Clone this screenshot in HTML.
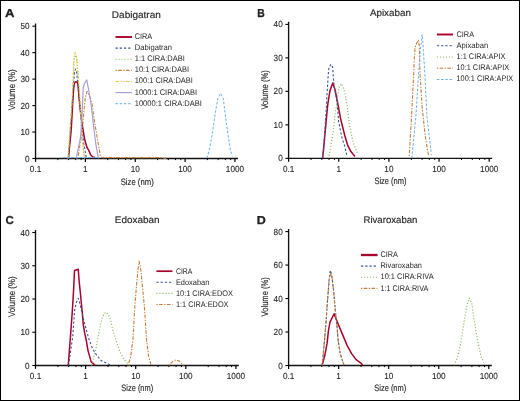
<!DOCTYPE html>
<html><head><meta charset="utf-8"><style>
html,body{margin:0;padding:0;background:#fff;}
body{width:520px;height:401px;overflow:hidden;}
svg{display:block;font-family:"Liberation Sans", sans-serif;will-change:transform;text-rendering:geometricPrecision;}
text{stroke:#231f20;stroke-width:0.15px;}
text.tk{stroke-width:0.1px;}
text.lg{stroke-width:0;}
text.pl{stroke-width:0.3px;}
</style></head><body>
<svg width="520" height="401" viewBox="0 0 520 401">
<rect x="0" y="0" width="520" height="401" fill="#fff"/>
<rect x="0.5" y="0.5" width="519" height="400" fill="none" stroke="#000" stroke-width="1"/>
<path d="M35.55 23.60V158.50H237.95" fill="none" stroke="#111" stroke-width="1.35"/>
<line x1="32.35" y1="158.50" x2="35.55" y2="158.50" stroke="#000" stroke-width="1.1"/>
<text class="tk" transform="translate(29.65 161.50) scale(0.93 1)" font-size="8.8" text-anchor="end" fill="#231f20">0</text>
<line x1="32.35" y1="132.04" x2="35.55" y2="132.04" stroke="#000" stroke-width="1.1"/>
<text class="tk" transform="translate(29.65 135.04) scale(0.93 1)" font-size="8.8" text-anchor="end" fill="#231f20">10</text>
<line x1="32.35" y1="105.58" x2="35.55" y2="105.58" stroke="#000" stroke-width="1.1"/>
<text class="tk" transform="translate(29.65 108.58) scale(0.93 1)" font-size="8.8" text-anchor="end" fill="#231f20">20</text>
<line x1="32.35" y1="79.12" x2="35.55" y2="79.12" stroke="#000" stroke-width="1.1"/>
<text class="tk" transform="translate(29.65 82.12) scale(0.93 1)" font-size="8.8" text-anchor="end" fill="#231f20">30</text>
<line x1="32.35" y1="52.66" x2="35.55" y2="52.66" stroke="#000" stroke-width="1.1"/>
<text class="tk" transform="translate(29.65 55.66) scale(0.93 1)" font-size="8.8" text-anchor="end" fill="#231f20">40</text>
<line x1="32.35" y1="26.20" x2="35.55" y2="26.20" stroke="#000" stroke-width="1.1"/>
<text class="tk" transform="translate(29.65 29.20) scale(0.93 1)" font-size="8.8" text-anchor="end" fill="#231f20">50</text>
<line x1="35.55" y1="158.50" x2="35.55" y2="161.90" stroke="#000" stroke-width="1.2"/>
<text class="tk" transform="translate(35.55 172.20) scale(0.93 1)" font-size="8.8" text-anchor="middle" fill="#231f20">0.1</text>
<line x1="57.84" y1="158.50" x2="57.84" y2="160.10" stroke="#000" stroke-width="1.0"/>
<line x1="68.59" y1="158.50" x2="68.59" y2="160.10" stroke="#000" stroke-width="1.0"/>
<line x1="75.74" y1="158.50" x2="75.74" y2="160.10" stroke="#000" stroke-width="1.0"/>
<line x1="81.10" y1="158.50" x2="81.10" y2="160.10" stroke="#000" stroke-width="1.0"/>
<line x1="85.40" y1="158.50" x2="85.40" y2="161.90" stroke="#000" stroke-width="1.2"/>
<text class="tk" transform="translate(85.40 172.20) scale(0.93 1)" font-size="8.8" text-anchor="middle" fill="#231f20">1</text>
<line x1="107.69" y1="158.50" x2="107.69" y2="160.10" stroke="#000" stroke-width="1.0"/>
<line x1="118.44" y1="158.50" x2="118.44" y2="160.10" stroke="#000" stroke-width="1.0"/>
<line x1="125.59" y1="158.50" x2="125.59" y2="160.10" stroke="#000" stroke-width="1.0"/>
<line x1="130.95" y1="158.50" x2="130.95" y2="160.10" stroke="#000" stroke-width="1.0"/>
<line x1="135.25" y1="158.50" x2="135.25" y2="161.90" stroke="#000" stroke-width="1.2"/>
<text class="tk" transform="translate(135.25 172.20) scale(0.93 1)" font-size="8.8" text-anchor="middle" fill="#231f20">10</text>
<line x1="157.54" y1="158.50" x2="157.54" y2="160.10" stroke="#000" stroke-width="1.0"/>
<line x1="168.29" y1="158.50" x2="168.29" y2="160.10" stroke="#000" stroke-width="1.0"/>
<line x1="175.44" y1="158.50" x2="175.44" y2="160.10" stroke="#000" stroke-width="1.0"/>
<line x1="180.80" y1="158.50" x2="180.80" y2="160.10" stroke="#000" stroke-width="1.0"/>
<line x1="185.10" y1="158.50" x2="185.10" y2="161.90" stroke="#000" stroke-width="1.2"/>
<text class="tk" transform="translate(185.10 172.20) scale(0.93 1)" font-size="8.8" text-anchor="middle" fill="#231f20">100</text>
<line x1="207.39" y1="158.50" x2="207.39" y2="160.10" stroke="#000" stroke-width="1.0"/>
<line x1="218.14" y1="158.50" x2="218.14" y2="160.10" stroke="#000" stroke-width="1.0"/>
<line x1="225.29" y1="158.50" x2="225.29" y2="160.10" stroke="#000" stroke-width="1.0"/>
<line x1="230.65" y1="158.50" x2="230.65" y2="160.10" stroke="#000" stroke-width="1.0"/>
<line x1="234.95" y1="158.50" x2="234.95" y2="161.90" stroke="#000" stroke-width="1.2"/>
<text class="tk" transform="translate(234.95 172.20) scale(0.93 1)" font-size="8.8" text-anchor="middle" fill="#231f20">1000</text>
<path d="M288.60 21.79V158.35H492.20" fill="none" stroke="#111" stroke-width="1.35"/>
<line x1="285.40" y1="158.35" x2="288.60" y2="158.35" stroke="#000" stroke-width="1.1"/>
<text class="tk" transform="translate(282.70 161.35) scale(0.93 1)" font-size="8.8" text-anchor="end" fill="#231f20">0</text>
<line x1="285.40" y1="124.86" x2="288.60" y2="124.86" stroke="#000" stroke-width="1.1"/>
<text class="tk" transform="translate(282.70 127.86) scale(0.93 1)" font-size="8.8" text-anchor="end" fill="#231f20">10</text>
<line x1="285.40" y1="91.37" x2="288.60" y2="91.37" stroke="#000" stroke-width="1.1"/>
<text class="tk" transform="translate(282.70 94.37) scale(0.93 1)" font-size="8.8" text-anchor="end" fill="#231f20">20</text>
<line x1="285.40" y1="57.88" x2="288.60" y2="57.88" stroke="#000" stroke-width="1.1"/>
<text class="tk" transform="translate(282.70 60.88) scale(0.93 1)" font-size="8.8" text-anchor="end" fill="#231f20">30</text>
<line x1="285.40" y1="24.39" x2="288.60" y2="24.39" stroke="#000" stroke-width="1.1"/>
<text class="tk" transform="translate(282.70 27.39) scale(0.93 1)" font-size="8.8" text-anchor="end" fill="#231f20">40</text>
<line x1="288.60" y1="158.35" x2="288.60" y2="161.75" stroke="#000" stroke-width="1.2"/>
<text class="tk" transform="translate(288.60 172.05) scale(0.93 1)" font-size="8.8" text-anchor="middle" fill="#231f20">0.1</text>
<line x1="311.02" y1="158.35" x2="311.02" y2="159.95" stroke="#000" stroke-width="1.0"/>
<line x1="321.84" y1="158.35" x2="321.84" y2="159.95" stroke="#000" stroke-width="1.0"/>
<line x1="329.03" y1="158.35" x2="329.03" y2="159.95" stroke="#000" stroke-width="1.0"/>
<line x1="334.43" y1="158.35" x2="334.43" y2="159.95" stroke="#000" stroke-width="1.0"/>
<line x1="338.75" y1="158.35" x2="338.75" y2="161.75" stroke="#000" stroke-width="1.2"/>
<text class="tk" transform="translate(338.75 172.05) scale(0.93 1)" font-size="8.8" text-anchor="middle" fill="#231f20">1</text>
<line x1="361.17" y1="158.35" x2="361.17" y2="159.95" stroke="#000" stroke-width="1.0"/>
<line x1="371.99" y1="158.35" x2="371.99" y2="159.95" stroke="#000" stroke-width="1.0"/>
<line x1="379.18" y1="158.35" x2="379.18" y2="159.95" stroke="#000" stroke-width="1.0"/>
<line x1="384.58" y1="158.35" x2="384.58" y2="159.95" stroke="#000" stroke-width="1.0"/>
<line x1="388.90" y1="158.35" x2="388.90" y2="161.75" stroke="#000" stroke-width="1.2"/>
<text class="tk" transform="translate(388.90 172.05) scale(0.93 1)" font-size="8.8" text-anchor="middle" fill="#231f20">10</text>
<line x1="411.32" y1="158.35" x2="411.32" y2="159.95" stroke="#000" stroke-width="1.0"/>
<line x1="422.14" y1="158.35" x2="422.14" y2="159.95" stroke="#000" stroke-width="1.0"/>
<line x1="429.33" y1="158.35" x2="429.33" y2="159.95" stroke="#000" stroke-width="1.0"/>
<line x1="434.73" y1="158.35" x2="434.73" y2="159.95" stroke="#000" stroke-width="1.0"/>
<line x1="439.05" y1="158.35" x2="439.05" y2="161.75" stroke="#000" stroke-width="1.2"/>
<text class="tk" transform="translate(439.05 172.05) scale(0.93 1)" font-size="8.8" text-anchor="middle" fill="#231f20">100</text>
<line x1="461.47" y1="158.35" x2="461.47" y2="159.95" stroke="#000" stroke-width="1.0"/>
<line x1="472.29" y1="158.35" x2="472.29" y2="159.95" stroke="#000" stroke-width="1.0"/>
<line x1="479.48" y1="158.35" x2="479.48" y2="159.95" stroke="#000" stroke-width="1.0"/>
<line x1="484.88" y1="158.35" x2="484.88" y2="159.95" stroke="#000" stroke-width="1.0"/>
<line x1="489.20" y1="158.35" x2="489.20" y2="161.75" stroke="#000" stroke-width="1.2"/>
<text class="tk" transform="translate(489.20 172.05) scale(0.93 1)" font-size="8.8" text-anchor="middle" fill="#231f20">1000</text>
<path d="M35.50 229.90V365.50H238.90" fill="none" stroke="#111" stroke-width="1.35"/>
<line x1="32.30" y1="365.50" x2="35.50" y2="365.50" stroke="#000" stroke-width="1.1"/>
<text class="tk" transform="translate(29.60 368.50) scale(0.93 1)" font-size="8.8" text-anchor="end" fill="#231f20">0</text>
<line x1="32.30" y1="332.25" x2="35.50" y2="332.25" stroke="#000" stroke-width="1.1"/>
<text class="tk" transform="translate(29.60 335.25) scale(0.93 1)" font-size="8.8" text-anchor="end" fill="#231f20">10</text>
<line x1="32.30" y1="299.00" x2="35.50" y2="299.00" stroke="#000" stroke-width="1.1"/>
<text class="tk" transform="translate(29.60 302.00) scale(0.93 1)" font-size="8.8" text-anchor="end" fill="#231f20">20</text>
<line x1="32.30" y1="265.75" x2="35.50" y2="265.75" stroke="#000" stroke-width="1.1"/>
<text class="tk" transform="translate(29.60 268.75) scale(0.93 1)" font-size="8.8" text-anchor="end" fill="#231f20">30</text>
<line x1="32.30" y1="232.50" x2="35.50" y2="232.50" stroke="#000" stroke-width="1.1"/>
<text class="tk" transform="translate(29.60 235.50) scale(0.93 1)" font-size="8.8" text-anchor="end" fill="#231f20">40</text>
<line x1="35.50" y1="365.50" x2="35.50" y2="368.90" stroke="#000" stroke-width="1.2"/>
<text class="tk" transform="translate(35.50 379.20) scale(0.93 1)" font-size="8.8" text-anchor="middle" fill="#231f20">0.1</text>
<line x1="57.90" y1="365.50" x2="57.90" y2="367.10" stroke="#000" stroke-width="1.0"/>
<line x1="68.70" y1="365.50" x2="68.70" y2="367.10" stroke="#000" stroke-width="1.0"/>
<line x1="75.89" y1="365.50" x2="75.89" y2="367.10" stroke="#000" stroke-width="1.0"/>
<line x1="81.28" y1="365.50" x2="81.28" y2="367.10" stroke="#000" stroke-width="1.0"/>
<line x1="85.60" y1="365.50" x2="85.60" y2="368.90" stroke="#000" stroke-width="1.2"/>
<text class="tk" transform="translate(85.60 379.20) scale(0.93 1)" font-size="8.8" text-anchor="middle" fill="#231f20">1</text>
<line x1="108.00" y1="365.50" x2="108.00" y2="367.10" stroke="#000" stroke-width="1.0"/>
<line x1="118.80" y1="365.50" x2="118.80" y2="367.10" stroke="#000" stroke-width="1.0"/>
<line x1="125.99" y1="365.50" x2="125.99" y2="367.10" stroke="#000" stroke-width="1.0"/>
<line x1="131.38" y1="365.50" x2="131.38" y2="367.10" stroke="#000" stroke-width="1.0"/>
<line x1="135.70" y1="365.50" x2="135.70" y2="368.90" stroke="#000" stroke-width="1.2"/>
<text class="tk" transform="translate(135.70 379.20) scale(0.93 1)" font-size="8.8" text-anchor="middle" fill="#231f20">10</text>
<line x1="158.10" y1="365.50" x2="158.10" y2="367.10" stroke="#000" stroke-width="1.0"/>
<line x1="168.90" y1="365.50" x2="168.90" y2="367.10" stroke="#000" stroke-width="1.0"/>
<line x1="176.09" y1="365.50" x2="176.09" y2="367.10" stroke="#000" stroke-width="1.0"/>
<line x1="181.48" y1="365.50" x2="181.48" y2="367.10" stroke="#000" stroke-width="1.0"/>
<line x1="185.80" y1="365.50" x2="185.80" y2="368.90" stroke="#000" stroke-width="1.2"/>
<text class="tk" transform="translate(185.80 379.20) scale(0.93 1)" font-size="8.8" text-anchor="middle" fill="#231f20">100</text>
<line x1="208.20" y1="365.50" x2="208.20" y2="367.10" stroke="#000" stroke-width="1.0"/>
<line x1="219.00" y1="365.50" x2="219.00" y2="367.10" stroke="#000" stroke-width="1.0"/>
<line x1="226.19" y1="365.50" x2="226.19" y2="367.10" stroke="#000" stroke-width="1.0"/>
<line x1="231.58" y1="365.50" x2="231.58" y2="367.10" stroke="#000" stroke-width="1.0"/>
<line x1="235.90" y1="365.50" x2="235.90" y2="368.90" stroke="#000" stroke-width="1.2"/>
<text class="tk" transform="translate(235.90 379.20) scale(0.93 1)" font-size="8.8" text-anchor="middle" fill="#231f20">1000</text>
<path d="M288.60 228.98V365.50H491.80" fill="none" stroke="#111" stroke-width="1.35"/>
<line x1="285.40" y1="365.50" x2="288.60" y2="365.50" stroke="#000" stroke-width="1.1"/>
<text class="tk" transform="translate(282.70 368.50) scale(0.93 1)" font-size="8.8" text-anchor="end" fill="#231f20">0</text>
<line x1="285.40" y1="332.02" x2="288.60" y2="332.02" stroke="#000" stroke-width="1.1"/>
<text class="tk" transform="translate(282.70 335.02) scale(0.93 1)" font-size="8.8" text-anchor="end" fill="#231f20">20</text>
<line x1="285.40" y1="298.54" x2="288.60" y2="298.54" stroke="#000" stroke-width="1.1"/>
<text class="tk" transform="translate(282.70 301.54) scale(0.93 1)" font-size="8.8" text-anchor="end" fill="#231f20">40</text>
<line x1="285.40" y1="265.06" x2="288.60" y2="265.06" stroke="#000" stroke-width="1.1"/>
<text class="tk" transform="translate(282.70 268.06) scale(0.93 1)" font-size="8.8" text-anchor="end" fill="#231f20">60</text>
<line x1="285.40" y1="231.58" x2="288.60" y2="231.58" stroke="#000" stroke-width="1.1"/>
<text class="tk" transform="translate(282.70 234.58) scale(0.93 1)" font-size="8.8" text-anchor="end" fill="#231f20">80</text>
<line x1="288.60" y1="365.50" x2="288.60" y2="368.90" stroke="#000" stroke-width="1.2"/>
<text class="tk" transform="translate(288.60 379.20) scale(0.93 1)" font-size="8.8" text-anchor="middle" fill="#231f20">0.1</text>
<line x1="310.98" y1="365.50" x2="310.98" y2="367.10" stroke="#000" stroke-width="1.0"/>
<line x1="321.77" y1="365.50" x2="321.77" y2="367.10" stroke="#000" stroke-width="1.0"/>
<line x1="328.95" y1="365.50" x2="328.95" y2="367.10" stroke="#000" stroke-width="1.0"/>
<line x1="334.34" y1="365.50" x2="334.34" y2="367.10" stroke="#000" stroke-width="1.0"/>
<line x1="338.65" y1="365.50" x2="338.65" y2="368.90" stroke="#000" stroke-width="1.2"/>
<text class="tk" transform="translate(338.65 379.20) scale(0.93 1)" font-size="8.8" text-anchor="middle" fill="#231f20">1</text>
<line x1="361.03" y1="365.50" x2="361.03" y2="367.10" stroke="#000" stroke-width="1.0"/>
<line x1="371.82" y1="365.50" x2="371.82" y2="367.10" stroke="#000" stroke-width="1.0"/>
<line x1="379.00" y1="365.50" x2="379.00" y2="367.10" stroke="#000" stroke-width="1.0"/>
<line x1="384.39" y1="365.50" x2="384.39" y2="367.10" stroke="#000" stroke-width="1.0"/>
<line x1="388.70" y1="365.50" x2="388.70" y2="368.90" stroke="#000" stroke-width="1.2"/>
<text class="tk" transform="translate(388.70 379.20) scale(0.93 1)" font-size="8.8" text-anchor="middle" fill="#231f20">10</text>
<line x1="411.08" y1="365.50" x2="411.08" y2="367.10" stroke="#000" stroke-width="1.0"/>
<line x1="421.87" y1="365.50" x2="421.87" y2="367.10" stroke="#000" stroke-width="1.0"/>
<line x1="429.05" y1="365.50" x2="429.05" y2="367.10" stroke="#000" stroke-width="1.0"/>
<line x1="434.44" y1="365.50" x2="434.44" y2="367.10" stroke="#000" stroke-width="1.0"/>
<line x1="438.75" y1="365.50" x2="438.75" y2="368.90" stroke="#000" stroke-width="1.2"/>
<text class="tk" transform="translate(438.75 379.20) scale(0.93 1)" font-size="8.8" text-anchor="middle" fill="#231f20">100</text>
<line x1="461.13" y1="365.50" x2="461.13" y2="367.10" stroke="#000" stroke-width="1.0"/>
<line x1="471.92" y1="365.50" x2="471.92" y2="367.10" stroke="#000" stroke-width="1.0"/>
<line x1="479.10" y1="365.50" x2="479.10" y2="367.10" stroke="#000" stroke-width="1.0"/>
<line x1="484.49" y1="365.50" x2="484.49" y2="367.10" stroke="#000" stroke-width="1.0"/>
<line x1="488.80" y1="365.50" x2="488.80" y2="368.90" stroke="#000" stroke-width="1.2"/>
<text class="tk" transform="translate(488.80 379.20) scale(0.93 1)" font-size="8.8" text-anchor="middle" fill="#231f20">1000</text>
<path d="M115.50 37.00H132.00" fill="none" stroke="#a9022c" stroke-width="1.9" stroke-linejoin="round"/>
<path d="M115.50 48.12H132.00" fill="none" stroke="#3a5596" stroke-width="1.1" stroke-linejoin="round" stroke-dasharray="2.3 1.9"/>
<path d="M115.50 59.24H132.00" fill="none" stroke="#84bf62" stroke-width="1.2" stroke-linejoin="round" stroke-dasharray="1.1 1.9"/>
<path d="M115.50 70.36H132.00" fill="none" stroke="#c47f38" stroke-width="1.1" stroke-linejoin="round" stroke-dasharray="1.3 1.4 3.6 1.5"/>
<path d="M115.50 81.48H132.00" fill="none" stroke="#f2c23a" stroke-width="0.95" stroke-linejoin="round" stroke-dasharray="3.6 1.4 1.2 1.4 1.2 1.6"/>
<path d="M115.50 92.60H132.00" fill="none" stroke="#a79ed8" stroke-width="1.2" stroke-linejoin="round"/>
<path d="M115.50 103.72H132.00" fill="none" stroke="#6cb0ea" stroke-width="1.0" stroke-linejoin="round" stroke-dasharray="2.5 1.7"/>
<path d="M436.90 34.50H453.00" fill="none" stroke="#a9022c" stroke-width="1.9" stroke-linejoin="round"/>
<path d="M436.90 45.75H453.00" fill="none" stroke="#3a5596" stroke-width="1.1" stroke-linejoin="round" stroke-dasharray="2.3 1.9"/>
<path d="M436.90 57.00H453.00" fill="none" stroke="#84bf62" stroke-width="1.2" stroke-linejoin="round" stroke-dasharray="1.1 1.9"/>
<path d="M436.90 68.25H453.00" fill="none" stroke="#c47f38" stroke-width="1.1" stroke-linejoin="round" stroke-dasharray="1.3 1.4 3.6 1.5"/>
<path d="M436.90 79.50H453.00" fill="none" stroke="#6cb0ea" stroke-width="1.0" stroke-linejoin="round" stroke-dasharray="2.5 1.7"/>
<path d="M156.40 271.20H172.50" fill="none" stroke="#a9022c" stroke-width="1.7" stroke-linejoin="round"/>
<path d="M156.40 282.32H172.50" fill="none" stroke="#3a5596" stroke-width="1.1" stroke-linejoin="round" stroke-dasharray="2.3 1.9"/>
<path d="M156.40 293.44H172.50" fill="none" stroke="#84bf62" stroke-width="1.2" stroke-linejoin="round" stroke-dasharray="1.1 1.9"/>
<path d="M156.40 304.56H172.50" fill="none" stroke="#c47f38" stroke-width="1.1" stroke-linejoin="round" stroke-dasharray="1.3 1.4 3.6 1.5"/>
<path d="M361.00 255.00H377.50" fill="none" stroke="#a9022c" stroke-width="2.3" stroke-linejoin="round"/>
<path d="M361.00 266.12H377.50" fill="none" stroke="#3a5596" stroke-width="1.1" stroke-linejoin="round" stroke-dasharray="2.3 1.9"/>
<path d="M361.00 277.24H377.50" fill="none" stroke="#84bf62" stroke-width="1.2" stroke-linejoin="round" stroke-dasharray="1.1 1.9"/>
<path d="M361.00 288.36H377.50" fill="none" stroke="#c47f38" stroke-width="1.1" stroke-linejoin="round" stroke-dasharray="1.3 1.4 3.6 1.5"/>
<path d="M67.00 158.40 L68.40 158.20 L71.20 130.00 L72.90 100.00 L73.70 88.00 L74.30 84.00 L75.20 82.20 L76.10 81.80 L77.10 82.20 L78.00 84.00 L78.40 90.00 L79.70 105.00 L81.20 118.00 L82.70 128.00 L84.60 139.00 L86.80 147.00 L88.90 150.60 L90.70 155.00 L92.80 157.00 L95.20 157.60" fill="none" stroke="#a9022c" stroke-width="1.5" stroke-linejoin="round"/>
<path d="M68.50 158.40 L72.40 100.00 L74.50 72.00 L75.50 69.00 L76.60 72.00 L79.50 100.00 L83.50 142.00 L85.00 150.00 L86.30 158.40" fill="none" stroke="#3a5596" stroke-width="1.1" stroke-linejoin="round" stroke-dasharray="2.3 1.9"/>
<path d="M68.00 158.40 L72.20 100.00 L74.20 58.50 L75.50 55.00 L76.80 58.50 L79.60 95.00 L82.00 138.00 L84.40 157.00 L84.60 158.40" fill="none" stroke="#84bf62" stroke-width="1.2" stroke-linejoin="round" stroke-dasharray="1.1 1.9"/>
<path d="M77.50 158.40 L78.40 155.00 L79.90 145.00 L82.30 131.70 L83.20 119.80 L84.20 107.90 L85.30 97.40 L87.20 91.40 L90.20 97.40 L92.20 105.00 L94.50 121.40 L97.00 136.50 L99.40 150.20 L100.40 156.40 L102.00 157.60 L160.00 157.60 L166.00 158.40" fill="none" stroke="#c47f38" stroke-width="1.1" stroke-linejoin="round" stroke-dasharray="1.3 1.4 3.6 1.5"/>
<path d="M68.00 158.40 L72.20 100.00 L74.10 56.00 L75.20 52.20 L76.40 56.00 L79.60 95.00 L82.00 138.00 L84.40 157.00 L84.60 158.40" fill="none" stroke="#f2c23a" stroke-width="0.95" stroke-linejoin="round" stroke-dasharray="3.6 1.4 1.2 1.4 1.2 1.6"/>
<path d="M75.80 158.40 L76.30 158.00 L78.50 147.00 L80.50 137.70 L81.20 128.70 L82.00 115.30 L82.70 100.40 L83.20 88.40 L84.20 84.00 L86.70 79.80 L88.70 90.00 L91.20 105.00 L93.50 125.50 L95.90 144.70 L98.10 157.00 L98.60 158.40" fill="none" stroke="#a79ed8" stroke-width="1.2" stroke-linejoin="round"/>
<path d="M206.60 158.00 L208.00 155.50 L210.00 146.70 L212.60 131.70 L215.30 113.00 L217.90 98.00 L220.60 93.40 L223.40 99.00 L226.20 122.40 L229.00 141.00 L230.40 150.00 L232.30 156.50" fill="none" stroke="#6cb0ea" stroke-width="1.0" stroke-linejoin="round" stroke-dasharray="2.5 1.7"/>
<path d="M63.00 157.60 L100.00 157.60" fill="none" stroke="#6cb0ea" stroke-width="1.0" stroke-linejoin="round" stroke-dasharray="2.5 1.7"/>
<path d="M322.40 158.10 L322.80 157.10 L327.40 108.00 L328.00 103.00 L329.90 91.10 L332.75 83.00 L334.90 89.25 L336.75 98.00 L338.30 106.50 L340.60 118.70 L344.70 135.20 L347.50 144.80 L350.90 151.60 L355.00 156.40" fill="none" stroke="#a9022c" stroke-width="1.5" stroke-linejoin="round"/>
<path d="M322.30 158.10 L323.50 150.30 L326.50 105.50 L327.00 94.25 L327.75 83.00 L328.25 74.25 L329.00 67.40 L331.10 64.30 L332.75 67.40 L333.25 76.75 L334.25 86.75 L336.10 96.75 L337.40 105.50 L338.60 121.50 L342.00 137.90 L344.70 146.20 L346.80 155.00" fill="none" stroke="#3a5596" stroke-width="1.1" stroke-linejoin="round" stroke-dasharray="2.3 1.9"/>
<path d="M329.00 155.80 L333.10 132.40 L335.80 109.00 L336.75 104.25 L338.00 94.25 L339.25 86.75 L341.10 83.60 L343.60 88.00 L345.50 95.50 L347.00 105.50 L349.60 125.60 L353.00 142.00 L357.80 154.40" fill="none" stroke="#84bf62" stroke-width="1.2" stroke-linejoin="round" stroke-dasharray="1.1 1.9"/>
<path d="M409.20 156.00 L411.50 117.40 L413.65 75.00 L414.30 59.25 L415.00 48.00 L416.50 43.60 L418.40 40.00 L419.25 45.50 L419.60 59.25 L420.10 75.00 L422.10 106.80 L425.30 136.40 L428.60 156.30" fill="none" stroke="#c47f38" stroke-width="1.1" stroke-linejoin="round" stroke-dasharray="1.3 1.4 3.6 1.5"/>
<path d="M411.80 158.10 L412.20 154.40 L415.80 117.40 L418.50 75.00 L419.60 60.50 L420.25 50.50 L421.50 40.50 L422.10 34.50 L422.75 40.50 L423.40 50.50 L424.25 64.25 L424.90 75.00 L427.00 117.40 L431.40 154.80" fill="none" stroke="#6cb0ea" stroke-width="1.0" stroke-linejoin="round" stroke-dasharray="2.5 1.7"/>
<path d="M67.80 365.40 L68.30 364.50 L70.50 336.00 L72.25 312.00 L72.90 302.00 L73.75 287.00 L74.50 270.50 L78.25 269.30 L79.10 280.75 L80.40 293.25 L81.60 305.75 L82.25 312.00 L83.30 325.00 L84.60 332.50 L86.20 340.00 L88.00 350.60 L91.10 361.60 L95.10 365.40" fill="none" stroke="#a9022c" stroke-width="1.5" stroke-linejoin="round"/>
<path d="M68.60 365.40 L72.75 336.25 L74.60 310.00 L76.50 302.00 L78.30 298.30 L80.25 305.00 L84.00 321.25 L88.80 338.80 L92.70 349.00 L96.60 355.30 L101.40 360.80 L106.90 363.20 L110.80 365.40" fill="none" stroke="#3a5596" stroke-width="1.1" stroke-linejoin="round" stroke-dasharray="2.3 1.9"/>
<path d="M91.30 365.40 L91.90 364.00 L93.50 358.50 L95.90 349.00 L98.20 336.40 L100.60 323.90 L102.90 316.00 L105.60 312.20 L108.40 314.40 L110.80 320.70 L113.20 331.70 L116.30 341.20 L119.40 350.60 L123.40 358.50 L127.30 363.20 L129.70 365.40" fill="none" stroke="#84bf62" stroke-width="1.2" stroke-linejoin="round" stroke-dasharray="1.1 1.9"/>
<path d="M127.80 365.40 L128.30 364.30 L130.50 357.80 L133.00 339.00 L134.30 314.50 L135.00 304.00 L136.50 286.00 L138.00 269.50 L139.20 261.30 L141.00 271.00 L142.80 290.50 L144.30 305.50 L144.60 310.00 L146.50 339.00 L148.60 356.40 L150.80 363.90 L151.50 365.40" fill="none" stroke="#c47f38" stroke-width="1.1" stroke-linejoin="round" stroke-dasharray="1.3 1.4 3.6 1.5"/>
<path d="M168.50 365.40 L170.50 363.80 L173.00 361.30 L176.20 359.80 L179.50 361.30 L182.00 363.80 L183.50 365.40" fill="none" stroke="#c47f38" stroke-width="1.1" stroke-linejoin="round" stroke-dasharray="1.3 1.4 3.6 1.5"/>
<path d="M321.80 365.20 L322.20 365.00 L324.70 355.80 L327.00 343.90 L328.50 330.40 L330.00 322.20 L332.20 317.70 L334.10 313.70 L335.90 318.50 L338.90 325.90 L342.70 334.90 L347.10 345.40 L351.60 353.60 L356.10 359.60 L361.30 363.30 L362.50 365.20" fill="none" stroke="#a9022c" stroke-width="1.5" stroke-linejoin="round"/>
<path d="M322.20 365.20 L324.70 337.90 L326.20 320.00 L327.00 307.00 L328.20 292.00 L329.20 278.50 L330.30 270.30 L331.60 275.00 L332.20 278.50 L333.70 292.00 L334.90 305.50 L336.00 317.50 L336.70 323.00 L338.20 340.90 L340.40 354.30 L343.40 363.30 L344.00 365.20" fill="none" stroke="#3a5596" stroke-width="1.1" stroke-linejoin="round" stroke-dasharray="2.3 1.9"/>
<path d="M454.00 365.20 L454.70 363.60 L457.60 357.30 L460.40 345.00 L462.90 329.90 L465.20 314.70 L467.40 303.40 L469.50 298.10 L471.80 303.40 L473.70 316.60 L476.10 331.80 L478.40 345.00 L481.30 357.30 L483.70 362.50" fill="none" stroke="#84bf62" stroke-width="1.2" stroke-linejoin="round" stroke-dasharray="1.1 1.9"/>
<path d="M322.20 365.20 L324.70 337.90 L326.20 320.00 L327.00 307.00 L328.20 292.00 L329.20 278.50 L330.70 273.20 L332.20 278.50 L333.70 292.00 L334.90 305.50 L336.00 317.50 L336.70 323.00 L338.20 340.90 L340.40 354.30 L343.40 363.30 L344.00 365.20" fill="none" stroke="#c47f38" stroke-width="1.1" stroke-linejoin="round" stroke-dasharray="1.3 1.4 3.6 1.5"/>
<text x="5.02" y="17.00" font-size="11.5" font-weight="bold" class="pl" fill="#231f20" textLength="9.49" lengthAdjust="spacingAndGlyphs">A</text>
<text x="257.14" y="16.80" font-size="11.5" font-weight="bold" class="pl" fill="#231f20" textLength="7.48" lengthAdjust="spacingAndGlyphs">B</text>
<text x="5.54" y="224.20" font-size="11.5" font-weight="bold" class="pl" fill="#231f20" textLength="8.27" lengthAdjust="spacingAndGlyphs">C</text>
<text x="256.88" y="223.60" font-size="11.5" font-weight="bold" class="pl" fill="#231f20" textLength="9.02" lengthAdjust="spacingAndGlyphs">D</text>
<text x="111.87" y="17.50" font-size="9.6" fill="#231f20" textLength="48.99" lengthAdjust="spacingAndGlyphs">Dabigatran</text>
<text x="369.93" y="16.00" font-size="9.6" fill="#231f20" textLength="40.96" lengthAdjust="spacingAndGlyphs">Apixaban</text>
<text x="114.87" y="223.40" font-size="9.6" fill="#231f20" textLength="44.57" lengthAdjust="spacingAndGlyphs">Edoxaban</text>
<text x="363.48" y="222.70" font-size="9.6" fill="#231f20" textLength="53.99" lengthAdjust="spacingAndGlyphs">Rivaroxaban</text>
<text x="120.70" y="184.50" font-size="9.2" fill="#231f20" textLength="33.05" lengthAdjust="spacingAndGlyphs">Size (nm)</text>
<text x="374.41" y="184.20" font-size="9.2" fill="#231f20" textLength="32.1" lengthAdjust="spacingAndGlyphs">Size (nm)</text>
<text x="121.31" y="391.40" font-size="9.2" fill="#231f20" textLength="31.91" lengthAdjust="spacingAndGlyphs">Size (nm)</text>
<text x="374.31" y="391.40" font-size="9.2" fill="#231f20" textLength="31.91" lengthAdjust="spacingAndGlyphs">Size (nm)</text>
<text transform="translate(15.20 110.22) rotate(-90)" x="0" y="0" font-size="9.6" fill="#231f20" textLength="40.75" lengthAdjust="spacingAndGlyphs">Volume (%)</text>
<text transform="translate(268.00 109.58) rotate(-90)" x="0" y="0" font-size="9.6" fill="#231f20" textLength="39.34" lengthAdjust="spacingAndGlyphs">Volume (%)</text>
<text transform="translate(15.30 317.12) rotate(-90)" x="0" y="0" font-size="9.6" fill="#231f20" textLength="40.75" lengthAdjust="spacingAndGlyphs">Volume (%)</text>
<text transform="translate(268.00 316.38) rotate(-90)" x="0" y="0" font-size="9.6" fill="#231f20" textLength="39.14" lengthAdjust="spacingAndGlyphs">Volume (%)</text>
<text x="134.72" y="39.00" font-size="8.1" class="lg" fill="#231f20" textLength="17.48" lengthAdjust="spacingAndGlyphs">CIRA</text>
<text x="134.72" y="50.10" font-size="8.1" class="lg" fill="#231f20" textLength="37.31" lengthAdjust="spacingAndGlyphs">Dabigatran</text>
<text x="134.72" y="61.20" font-size="8.1" class="lg" fill="#231f20" textLength="50.01" lengthAdjust="spacingAndGlyphs">1:1 CIRA:DABI</text>
<text x="134.72" y="72.30" font-size="8.1" class="lg" fill="#231f20" textLength="54.39" lengthAdjust="spacingAndGlyphs">10:1 CIRA:DABI</text>
<text x="134.72" y="83.40" font-size="8.1" class="lg" fill="#231f20" textLength="58.1" lengthAdjust="spacingAndGlyphs">100:1 CIRA:DABI</text>
<text x="134.72" y="94.50" font-size="8.1" class="lg" fill="#231f20" textLength="62.32" lengthAdjust="spacingAndGlyphs">1000:1 CIRA:DABI</text>
<text x="134.72" y="105.60" font-size="8.1" class="lg" fill="#231f20" textLength="67.19" lengthAdjust="spacingAndGlyphs">10000:1 CIRA:DABI</text>
<text x="456.52" y="36.90" font-size="8.1" class="lg" fill="#231f20" textLength="17.54" lengthAdjust="spacingAndGlyphs">CIRA</text>
<text x="456.52" y="48.00" font-size="8.1" class="lg" fill="#231f20" textLength="31.63" lengthAdjust="spacingAndGlyphs">Apixaban</text>
<text x="456.52" y="59.10" font-size="8.1" class="lg" fill="#231f20" textLength="48.95" lengthAdjust="spacingAndGlyphs">1:1 CIRA:APIX</text>
<text x="456.52" y="70.20" font-size="8.1" class="lg" fill="#231f20" textLength="52.71" lengthAdjust="spacingAndGlyphs">10:1 CIRA:APIX</text>
<text x="456.52" y="81.30" font-size="8.1" class="lg" fill="#231f20" textLength="56.7" lengthAdjust="spacingAndGlyphs">100:1 CIRA:APIX</text>
<text x="175.92" y="273.60" font-size="8.1" class="lg" fill="#231f20" textLength="16.47" lengthAdjust="spacingAndGlyphs">CIRA</text>
<text x="175.92" y="284.70" font-size="8.1" class="lg" fill="#231f20" textLength="33.43" lengthAdjust="spacingAndGlyphs">Edoxaban</text>
<text x="175.92" y="295.80" font-size="8.1" class="lg" fill="#231f20" textLength="57.08" lengthAdjust="spacingAndGlyphs">10:1 CIRA:EDOX</text>
<text x="175.92" y="306.90" font-size="8.1" class="lg" fill="#231f20" textLength="52.61" lengthAdjust="spacingAndGlyphs">1:1 CIRA:EDOX</text>
<text x="380.52" y="257.20" font-size="8.1" class="lg" fill="#231f20" textLength="17.48" lengthAdjust="spacingAndGlyphs">CIRA</text>
<text x="380.52" y="268.30" font-size="8.1" class="lg" fill="#231f20" textLength="41.45" lengthAdjust="spacingAndGlyphs">Rivaroxaban</text>
<text x="380.52" y="279.40" font-size="8.1" class="lg" fill="#231f20" textLength="53.13" lengthAdjust="spacingAndGlyphs">10:1 CIRA:RIVA</text>
<text x="380.52" y="290.50" font-size="8.1" class="lg" fill="#231f20" textLength="47.74" lengthAdjust="spacingAndGlyphs">1:1 CIRA:RIVA</text>
</svg></body></html>
